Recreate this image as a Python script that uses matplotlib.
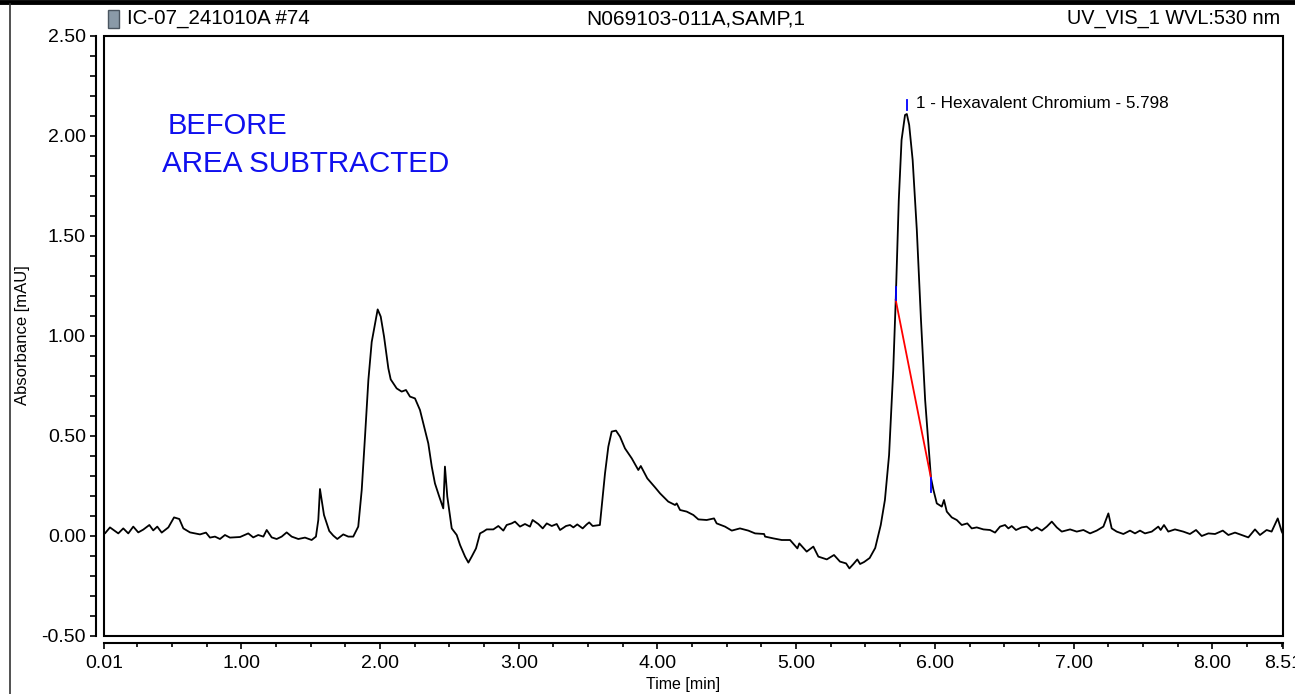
import matplotlib
matplotlib.use("Agg")
import matplotlib.pyplot as plt
from matplotlib.patches import Rectangle
from matplotlib.lines import Line2D
from matplotlib.ticker import MultipleLocator, FixedLocator

plt.rcParams['axes.unicode_minus'] = False
plt.rcParams['font.family'] = ['Liberation Sans', 'DejaVu Sans']

# chromatogram trace (time [min], absorbance [mAU])
time_min = [
    0.01, 0.017, 0.053, 0.089, 0.113, 0.149, 0.185, 0.221, 0.257, 0.293,
    0.337, 0.365, 0.394, 0.426, 0.474, 0.515, 0.553, 0.582, 0.630, 0.702,
    0.745, 0.774, 0.810, 0.846, 0.882, 0.918, 0.991, 1.050, 1.086, 1.122,
    1.159, 1.183, 1.219, 1.255, 1.291, 1.327, 1.363, 1.411, 1.459, 1.507,
    1.538, 1.555, 1.567, 1.596, 1.634, 1.663, 1.692, 1.735, 1.771, 1.807,
    1.843, 1.868, 1.892, 1.916, 1.940, 1.964, 1.983, 2.005, 2.029, 2.060,
    2.077, 2.120, 2.156, 2.187, 2.216, 2.252, 2.288, 2.324, 2.348, 2.373,
    2.396, 2.427, 2.456, 2.468, 2.485, 2.517, 2.553, 2.577, 2.613, 2.637,
    2.661, 2.692, 2.721, 2.745, 2.769, 2.817, 2.853, 2.889, 2.913, 2.949,
    2.973, 3.009, 3.045, 3.081, 3.100, 3.141, 3.173, 3.202, 3.238, 3.274,
    3.298, 3.341, 3.370, 3.394, 3.422, 3.461, 3.490, 3.508, 3.533, 3.585,
    3.598, 3.622, 3.646, 3.670, 3.701, 3.730, 3.766, 3.815, 3.862, 3.880,
    3.927, 3.983, 4.019, 4.078, 4.127, 4.139, 4.163, 4.211, 4.259, 4.295,
    4.355, 4.408, 4.427, 4.487, 4.536, 4.595, 4.655, 4.704, 4.769, 4.776,
    4.836, 4.896, 4.956, 5.009, 5.023, 5.076, 5.124, 5.160, 5.221, 5.273,
    5.316, 5.360, 5.384, 5.413, 5.441, 5.461, 5.49, 5.53, 5.57, 5.61,
    5.64, 5.67, 5.70, 5.718, 5.74, 5.76, 5.785, 5.798, 5.815, 5.84,
    5.87, 5.90, 5.93, 5.972, 5.99, 6.014, 6.050, 6.066, 6.086, 6.122,
    6.158, 6.194, 6.234, 6.266, 6.302, 6.350, 6.398, 6.434, 6.470, 6.506,
    6.530, 6.554, 6.585, 6.626, 6.662, 6.698, 6.735, 6.771, 6.807, 6.843,
    6.879, 6.915, 6.975, 7.023, 7.071, 7.119, 7.167, 7.215, 7.251, 7.275,
    7.311, 7.359, 7.407, 7.443, 7.479, 7.515, 7.564, 7.611, 7.628, 7.652,
    7.683, 7.731, 7.791, 7.839, 7.883, 7.924, 7.972, 8.020, 8.076, 8.116,
    8.164, 8.212, 8.260, 8.308, 8.344, 8.392, 8.428, 8.472, 8.501, 8.51,
]
absorbance = [
    0.02, 0.013, 0.043, 0.025, 0.013, 0.038, 0.013, 0.047, 0.018, 0.032,
    0.055, 0.028, 0.047, 0.017, 0.043, 0.093, 0.085, 0.038, 0.018, 0.008,
    0.017, -0.008, -0.003, -0.015, 0.005, -0.008, -0.005, 0.013, -0.007, 0.005,
    -0.003, 0.03, -0.007, -0.015, -0.003, 0.018, -0.003, -0.015, -0.008, -0.02,
    -0.003, 0.08, 0.235, 0.105, 0.025, 0.002, -0.015, 0.008, -0.003, -0.003,
    0.047, 0.23, 0.50, 0.78, 0.97, 1.06, 1.133, 1.097, 0.997, 0.838,
    0.783, 0.738, 0.722, 0.73, 0.697, 0.688, 0.63, 0.53, 0.463, 0.347,
    0.263, 0.197, 0.138, 0.347, 0.197, 0.038, 0.005, -0.045, -0.103, -0.133,
    -0.103, -0.062, 0.013, 0.022, 0.033, 0.033, 0.05, 0.027, 0.055, 0.063,
    0.072, 0.047, 0.06, 0.047, 0.08, 0.06, 0.038, 0.063, 0.05, 0.06,
    0.03, 0.05, 0.055, 0.043, 0.058, 0.038, 0.058, 0.068, 0.05, 0.055,
    0.147, 0.313, 0.447, 0.522, 0.527, 0.497, 0.438, 0.388, 0.33, 0.35,
    0.288, 0.243, 0.213, 0.172, 0.155, 0.163, 0.13, 0.122, 0.105, 0.083,
    0.08, 0.088, 0.063, 0.047, 0.027, 0.038, 0.027, 0.013, 0.01, -0.003,
    -0.012, -0.02, -0.02, -0.062, -0.037, -0.078, -0.053, -0.103, -0.117, -0.095,
    -0.128, -0.137, -0.162, -0.14, -0.117, -0.14, -0.13, -0.11, -0.06, 0.055,
    0.18, 0.405, 0.83, 1.18, 1.68, 1.98, 2.105, 2.11, 2.055, 1.88,
    1.53, 1.08, 0.68, 0.29, 0.23, 0.163, 0.147, 0.18, 0.122, 0.093,
    0.08, 0.055, 0.063, 0.038, 0.043, 0.033, 0.03, 0.017, 0.047, 0.055,
    0.038, 0.05, 0.03, 0.043, 0.047, 0.027, 0.043, 0.027, 0.047, 0.072,
    0.043, 0.022, 0.033, 0.022, 0.03, 0.013, 0.027, 0.047, 0.113, 0.038,
    0.022, 0.01, 0.027, 0.013, 0.027, 0.013, 0.022, 0.047, 0.03, 0.055,
    0.022, 0.033, 0.022, 0.01, 0.03, 0.0, 0.013, 0.01, 0.027, 0.005,
    0.017, 0.005, -0.007, 0.033, 0.005, 0.03, 0.022, 0.088, 0.022, 0.01,
]

# integration baseline of peak 1
base_t = [5.718, 5.972]
base_v = [1.18, 0.29]
peak_rt = 5.798
peak_label = "1 - Hexavalent Chromium - 5.798"

x_major = [0.01, 1.0, 2.0, 3.0, 4.0, 5.0, 6.0, 7.0, 8.0, 8.51]
x_labels = ["0.01", "1.00", "2.00", "3.00", "4.00", "5.00", "6.00", "7.00", "8.00", "8.51"]
x_minor = [0.25, 0.5, 0.75, 1.25, 1.5, 1.75, 2.25, 2.5, 2.75, 3.25, 3.5, 3.75,
           4.25, 4.5, 4.75, 5.25, 5.5, 5.75, 6.25, 6.5, 6.75, 7.25, 7.5, 7.75,
           8.25, 8.5]

W, H = 1295, 694
fig = plt.figure(figsize=(W / 100, H / 100), dpi=100)
ax = fig.add_axes([104 / W, 1 - 636 / H, (1283 - 104) / W, 600 / H])


def fx(px):
    return px / W


def fy(py):
    return 1 - py / H


ax.plot(time_min, absorbance, color='black', lw=1.3, zorder=3)
ax.plot(base_t, base_v, color='#ff0000', lw=1.3, zorder=4)
# peak start / end / apex markers
ax.plot([base_t[0], base_t[0]], [base_v[0], base_v[0] + 0.065], color='#0000ff', lw=1.3, zorder=5)
ax.plot([base_t[1], base_t[1]], [base_v[1], base_v[1] - 0.07], color='#0000ff', lw=1.3, zorder=5)
ax.plot([peak_rt, peak_rt], [2.13, 2.18], color='#0000ff', lw=1.3, zorder=5)
ax.text(peak_rt + 0.065, 2.16, peak_label, fontsize=12.3, va='center', ha='left')

ax.set_xlim(0.01, 8.51)
ax.set_ylim(-0.5, 2.5)

ax.xaxis.set_major_locator(FixedLocator(x_major))
ax.set_xticklabels(x_labels)
ax.xaxis.set_minor_locator(FixedLocator(x_minor))
ax.yaxis.set_major_locator(MultipleLocator(0.5))
ax.yaxis.set_minor_locator(MultipleLocator(0.1))
ax.set_yticks(ax.get_yticks())
ax.set_yticklabels(["%.2f" % v for v in ax.get_yticks()])
ax.set_ylim(-0.5, 2.5)

ax.tick_params(axis='both', which='major', labelsize=14, width=1.2, color='black')
ax.tick_params(axis='y', which='major', length=4.5, pad=3)
ax.tick_params(axis='y', which='minor', length=4.5, width=1.2)
ax.tick_params(axis='x', which='major', length=4.5, pad=4)
ax.tick_params(axis='x', which='minor', length=3, width=1.2)

for s in ['top', 'right']:
    ax.spines[s].set_visible(False)
ax.spines['left'].set_position(('outward', 5.5))
ax.spines['bottom'].set_position(('outward', 5))
ax.spines['left'].set_linewidth(1.5)
ax.spines['bottom'].set_linewidth(1.5)
ax.add_patch(Rectangle((0, 0), 1, 1, transform=ax.transAxes, fill=False,
                       lw=1.5, edgecolor='black', clip_on=False, zorder=6))

ax.set_xlabel("Time [min]", fontsize=11.5)
ax.xaxis.set_label_coords((683 - 104) / 1179, (636 - 677) / 600)
ax.set_ylabel("Absorbance [mAU]", fontsize=12)
ax.yaxis.set_label_coords((30 - 104) / 1179, (636 - 335) / 600)

# annotation written on the report
ax.text(fx(168), fy(126), "BEFORE", transform=fig.transFigure, fontsize=21,
        color='#1010ee', va='center', ha='left')
ax.text(fx(162), fy(164), "AREA SUBTRACTED", transform=fig.transFigure, fontsize=21.3,
        color='#1010ee', va='center', ha='left')

# report header
fig.text(fx(127), fy(19), "IC-07_241010A #74", fontsize=14.8, va='center', ha='left')
fig.text(fx(696), fy(19), "N069103-011A,SAMP,1", fontsize=15, va='center', ha='center')
fig.text(fx(1280), fy(19), "UV_VIS_1 WVL:530 nm", fontsize=14.3, va='center', ha='right')
fig.add_artist(Rectangle((fx(108), fy(28)), 11 / W, 18 / H, transform=fig.transFigure,
                         facecolor='#8a9aa8', edgecolor='#4a5560', lw=1))

# window borders
fig.add_artist(Line2D([0, 1], [fy(2), fy(2)], transform=fig.transFigure, color='black', lw=3.5))
fig.add_artist(Line2D([fx(10), fx(10)], [0, fy(4)], transform=fig.transFigure, color='#333333', lw=1.2))

plt.savefig('out.png', dpi=100)
